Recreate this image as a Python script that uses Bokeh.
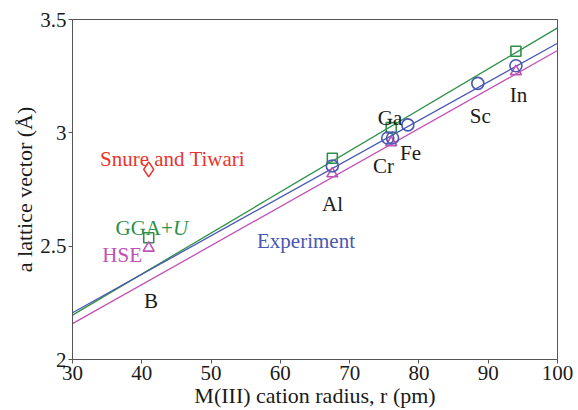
from bokeh.plotting import figure
from bokeh.models import Range1d, FixedTicker, Label
from bokeh.embed import file_html
from bokeh.resources import INLINE

# ---------------- data ----------------
ggau_r = [41.0, 67.5, 76.0, 94.0]
ggau_a = [2.537, 2.888, 3.023, 3.360]

hse_r = [41.0, 67.5, 76.0, 94.0]
hse_a = [2.492, 2.820, 2.957, 3.271]

exp_r = [67.5, 75.5, 76.2, 78.4, 88.5, 94.0]
exp_a = [2.854, 2.977, 2.977, 3.035, 3.218, 3.296]

snure_r = [41.0]
snure_a = [2.839]

fit_r = [30.0, 100.0]
ggau_fit = [2.196, 3.463]
exp_fit = [2.206, 3.395]
hse_fit = [2.158, 3.363]

xticks = [30, 40, 50, 60, 70, 80, 90, 100]
yticks = [2.0, 2.5, 3.0, 3.5]
ytick_labels = ["2", "2.5", "3", "3.5"]

x_title = "M(III) cation radius, r (pm)"
y_title = "a lattice vector (Å)"

# ---------------- styling ----------------
GREEN = "#2e9048"
BLUE = "#4858b0"
PINK = "#c052b5"
RED = "#e8342c"
AXC = "#555555"
TXT = "#1a1a1a"
FONT = "Liberation Serif"

W, H = 578, 410
FL, FR, FT, FB = 72, 557, 19, 359   # frame edges in pixels

p = figure(width=W, height=H, output_backend="svg", toolbar_location=None,
           x_range=Range1d(30, 100), y_range=Range1d(2, 3.5),
           min_border_left=FL, min_border_right=W - FR,
           min_border_top=FT, min_border_bottom=H - FB,
           background_fill_color="white", border_fill_color="white")

p.xgrid.visible = False
p.ygrid.visible = False
p.outline_line_color = AXC
p.outline_line_width = 1

for ax in (p.xaxis[0], p.yaxis[0]):
    ax.axis_line_color = AXC
    ax.major_tick_line_color = AXC
    ax.minor_tick_line_color = None
    ax.major_tick_out = 4
    ax.major_tick_in = 0
    ax.major_label_standoff = 2
    ax.major_label_text_font = FONT
    ax.major_label_text_font_size = "21px"
    ax.major_label_text_color = TXT
    ax.axis_label_text_font = FONT
    ax.axis_label_text_font_size = "22px"
    ax.axis_label_text_font_style = "normal"
    ax.axis_label_text_color = TXT

p.xaxis.axis_label = x_title
p.yaxis.axis_label = y_title
p.xaxis.axis_label_standoff = 0
p.yaxis.axis_label_standoff = 0

p.xaxis.ticker = FixedTicker(ticks=xticks)
p.yaxis.ticker = FixedTicker(ticks=yticks)
p.yaxis.major_label_overrides = {t: s for t, s in zip(yticks, ytick_labels)}

# fit lines
p.line(fit_r, ggau_fit, line_color=GREEN, line_width=1.3)
p.line(fit_r, exp_fit, line_color=BLUE, line_width=1.3)
p.line(fit_r, hse_fit, line_color=PINK, line_width=1.3)

# markers
p.scatter(ggau_r, ggau_a, marker="square", size=10, fill_color=None,
          line_color=GREEN, line_width=1.6)
p.scatter(hse_r, hse_a, marker="triangle", size=11, fill_color=None,
          line_color=PINK, line_width=1.6)
p.scatter(exp_r, exp_a, marker="circle", size=12, fill_color=None,
          line_color=BLUE, line_width=1.6)
p.scatter(snure_r, snure_a, marker="diamond", size=15, fill_color=None,
          line_color=RED, line_width=1.6)


# pixel -> data helpers
def X(sx):
    return 30 + (sx - FL) * 70.0 / (FR - FL)


def Y(sy):
    return 3.5 - (sy - FT) * 1.5 / (FB - FT)


def lab(text, sx, sy, color=TXT, align="center", style="normal",
        size="21px"):
    p.add_layout(Label(x=X(sx), y=Y(sy), text=text, text_color=color,
                       text_font=FONT, text_font_size=size,
                       text_font_style=style, text_align=align,
                       text_baseline="alphabetic"))


# series labels
lab("Snure and Tiwari", 172, 158, RED)
lab("GGA+", 115, 227, GREEN, align="left")
lab("U", 172.5, 227, GREEN, align="left", style="italic")
lab("HSE", 121.7, 254, PINK)
lab("Experiment", 305.5, 240, BLUE)

# element labels
lab("B", 150.5, 300)
lab("Al", 332, 203)
lab("Ga", 389.5, 117)
lab("Cr", 383, 165)
lab("Fe", 410, 152)
lab("Sc", 479.7, 115)
lab("In", 518, 94)

open("out.html", "w").write(file_html(p, INLINE))
